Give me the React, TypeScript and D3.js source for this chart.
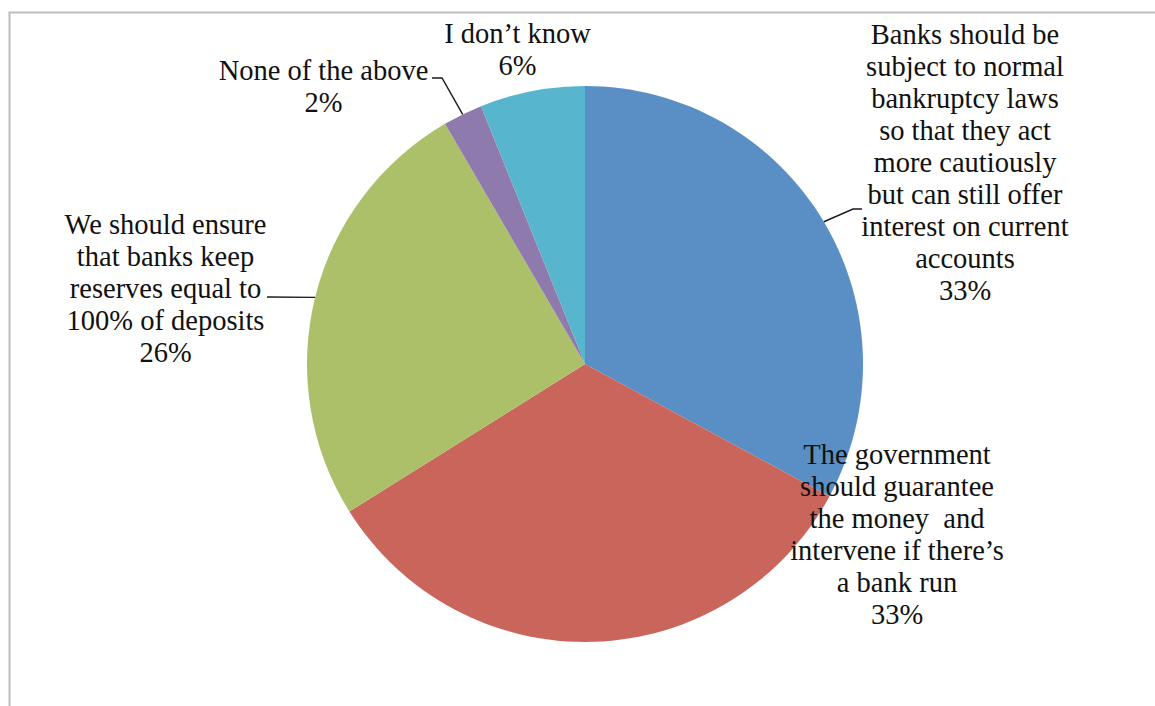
import React from "react";
import * as d3 from "d3";

const categories = [
  "Banks should be subject to normal bankruptcy laws so that they act more cautiously but can still offer interest on current accounts",
  "The government should guarantee the money  and intervene if there’s a bank run",
  "We should ensure that banks keep reserves equal to 100% of deposits",
  "None of the above",
  "I don’t know",
];
const values = [32.9, 33.2, 25.5, 2.3, 6.1];
const colors = ["#5A8FC5", "#CA655B", "#ACC06A", "#8F7AAE", "#57B5CD"];
const labelLines = [
  ["Banks should be", "subject to normal", "bankruptcy laws", "so that they act", "more cautiously", "but can still offer", "interest on current", "accounts"],
  ["The government", "should guarantee", "the money  and", "intervene if there’s", "a bank run"],
  ["We should ensure", "that banks keep", "reserves equal to", "100% of deposits"],
  ["None of the above"],
  ["I don’t know"],
];

// layout (label centre x, first baseline y, optional leader elbow points)
const labelLayout = [
  { x: 965, y: 43.5, leader: [[862, 209], [853, 209]] },
  { x: 897, y: 463.5, leader: null },
  { x: 165.5, y: 233.5, leader: [[267, 297]] },
  { x: 323.5, y: 80, leader: [[432, 78], [442, 78]] },
  { x: 517.5, y: 43, leader: null },
];

const W = 1155;
const H = 706;
const cx = 585;
const cy = 364;
const R = 278;
const LINE_H = 32;

export default function App() {
  const pie = d3.pie<number>().sort(null).value((d) => d)(values);
  const arc = d3.arc<d3.PieArcDatum<number>>().innerRadius(0).outerRadius(R);
  const total = d3.sum(values);

  return (
    <svg
      width={W}
      height={H}
      style={{ position: "absolute", left: 0, top: 0, background: "#fff" }}
    >
      <path d={`M9.5,${H} L9.5,12.5 L${W},12.5`} fill="none" stroke="#bdbdbd" strokeWidth={2} />
      <g transform={`translate(${cx},${cy})`}>
        {pie.map((p, i) => (
          <path key={i} d={arc(p) || ""} fill={colors[i]} />
        ))}
      </g>
      {pie.map((p, i) => {
        const lay = labelLayout[i];
        if (!lay.leader) return null;
        const mid = (p.startAngle + p.endAngle) / 2;
        const ex = cx + R * Math.sin(mid);
        const ey = cy - R * Math.cos(mid);
        const pts = [...lay.leader, [ex, ey]] as [number, number][];
        return (
          <path
            key={"l" + i}
            d={d3.line()(pts) || ""}
            fill="none"
            stroke="#1a1a1a"
            strokeWidth={1.4}
          />
        );
      })}
      {labelLines.map((lines, i) => {
        const lay = labelLayout[i];
        const pct = Math.round((values[i] / total) * 100) + "%";
        const all = [...lines, pct];
        return (
          <text
            key={"t" + i}
            x={lay.x}
            y={lay.y}
            textAnchor="middle"
            fontFamily="'Liberation Serif', serif"
            fontSize={28.5}
            fill="#111"
            style={{ whiteSpace: "pre" }}
          >
            {all.map((s, j) => (
              <tspan key={j} x={lay.x} y={lay.y + j * LINE_H}>
                {s}
              </tspan>
            ))}
          </text>
        );
      })}
    </svg>
  );
}
